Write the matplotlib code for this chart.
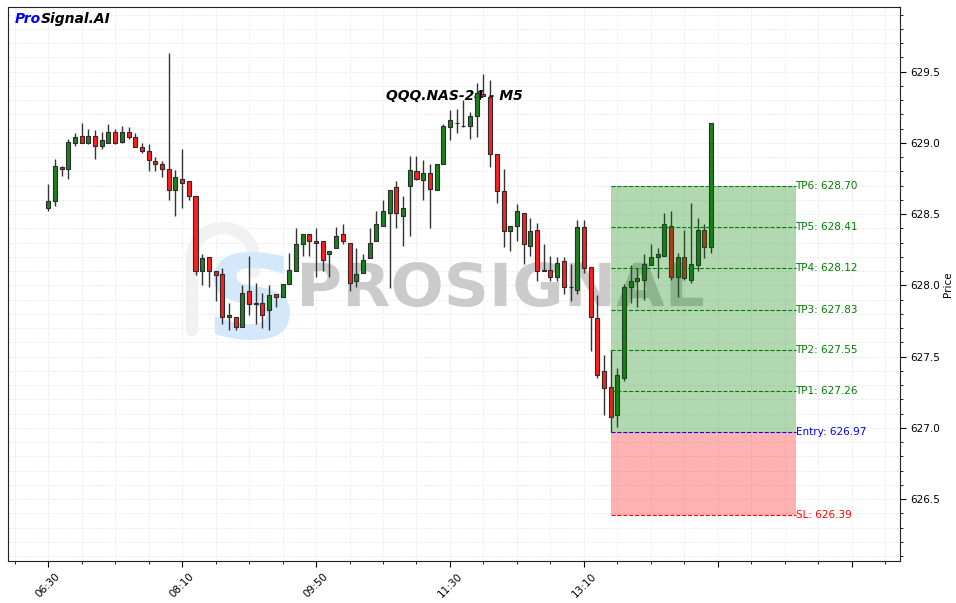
# coding=utf-8

import numpy as np
import pandas as pd
import matplotlib
matplotlib.use('Agg')
import matplotlib.pyplot as plt
from matplotlib.path import Path
from matplotlib.patches import PathPatch
from matplotlib.textpath import TextPath
from matplotlib.font_manager import FontProperties
from matplotlib.transforms import Affine2D
from matplotlib.ticker import MultipleLocator, FuncFormatter


SYMBOL = 'QQQ.NAS-24'
TIMEFRAME = 'M5'

times = pd.date_range('2024-01-01 06:30', periods=100, freq='5min').strftime('%H:%M').tolist()

opens = [628.54, 628.59, 628.83, 628.82, 629.00, 629.05, 629.00, 629.05, 628.98, 629.00,
         629.08, 629.01, 629.08, 629.04, 628.97, 628.94, 628.87, 628.85, 628.82, 628.67,
         628.75, 628.73, 628.63, 628.10, 628.20, 628.10, 628.08, 627.78, 627.78, 627.71,
         627.96, 627.87, 627.88, 627.83, 627.94, 627.92, 628.01, 628.10, 628.29, 628.36,
         628.31, 628.31, 628.22, 628.26, 628.36, 628.30, 628.03, 628.09, 628.19, 628.31,
         628.42, 628.51, 628.69, 628.49, 628.70, 628.80, 628.74, 628.79, 628.67, 628.85,
         629.11, 629.14, 629.12, 629.12, 629.19, 629.345, 629.32, 628.92, 628.66, 628.38,
         628.42, 628.51, 628.28, 628.39, 628.10, 628.11, 628.06, 628.17, 627.99, 627.97,
         628.41, 628.13, 627.77, 627.40, 627.285, 627.09, 627.35, 627.99, 628.03, 628.04,
         628.14, 628.20, 628.21, 628.42, 628.06, 628.20, 628.04, 628.14, 628.39, 628.27]
highs = [628.71, 628.885, 628.84, 629.03, 629.07, 629.14, 629.10, 629.09, 629.08, 629.135,
         629.10, 629.12, 629.11, 629.07, 629.00, 628.995, 628.90, 628.87, 629.63, 628.81,
         628.96, 628.73, 628.63, 628.22, 628.20, 628.10, 628.12, 627.88, 627.78, 628.00,
         628.21, 628.02, 627.95, 628.00, 627.94, 628.01, 628.23, 628.40, 628.36, 628.36,
         628.40, 628.31, 628.24, 628.41, 628.43, 628.30, 628.26, 628.22, 628.40, 628.52,
         628.60, 628.67, 628.73, 628.63, 628.91, 628.91, 628.88, 628.85, 628.85, 629.135,
         629.23, 629.24, 629.30, 629.22, 629.42, 629.485, 629.44, 628.92, 628.82, 628.42,
         628.57, 628.51, 628.47, 628.44, 628.29, 628.21, 628.20, 628.20, 628.15, 628.46,
         628.46, 628.13, 627.93, 627.51, 627.55, 627.42, 628.01, 628.14, 628.12, 628.22,
         628.29, 628.26, 628.51, 628.52, 628.23, 628.39, 628.58, 628.47, 628.43, 629.14]
lows = [628.52, 628.56, 628.77, 628.75, 628.98, 629.00, 628.99, 628.89, 628.96, 629.00,
        628.995, 629.00, 629.03, 628.97, 628.93, 628.80, 628.80, 628.76, 628.60, 628.49,
        628.54, 628.60, 628.07, 628.00, 627.99, 627.89, 627.73, 627.69, 627.69, 627.71,
        627.79, 627.73, 627.70, 627.69, 627.85, 627.92, 628.01, 628.10, 628.21, 628.21,
        628.06, 628.10, 628.06, 628.26, 628.29, 627.96, 627.99, 628.09, 628.19, 628.31,
        628.42, 627.98, 628.40, 628.28, 628.35, 628.74, 628.60, 628.40, 628.67, 628.85,
        629.02, 629.07, 629.11, 629.03, 629.04, 629.33, 628.83, 628.58, 628.27, 628.24,
        628.31, 628.15, 628.21, 628.03, 628.10, 628.03, 628.03, 627.94, 627.89, 627.94,
        628.09, 627.54, 627.35, 627.09, 626.97, 627.005, 627.33, 627.88, 627.85, 627.90,
        628.14, 628.05, 628.21, 628.04, 627.92, 628.04, 628.02, 628.10, 628.19, 628.23]
closes = [628.59, 628.84, 628.82, 629.01, 629.04, 629.00, 629.05, 628.98, 629.02, 629.08,
          629.00, 629.08, 629.04, 628.97, 628.94, 628.88, 628.85, 628.82, 628.67, 628.76,
          628.72, 628.63, 628.10, 628.19, 628.10, 628.07, 627.78, 627.79, 627.71, 627.95,
          627.87, 627.88, 627.79, 627.93, 627.92, 628.01, 628.11, 628.29, 628.36, 628.31,
          628.30, 628.18, 628.24, 628.35, 628.31, 628.02, 628.08, 628.18, 628.30, 628.43,
          628.52, 628.67, 628.51, 628.54, 628.81, 628.75, 628.79, 628.68, 628.85, 629.12,
          629.16, 629.14, 629.12, 629.19, 629.35, 629.33, 628.92, 628.66, 628.38, 628.42,
          628.52, 628.29, 628.38, 628.10, 628.11, 628.06, 628.16, 627.99, 627.99, 628.41,
          628.12, 627.78, 627.37, 627.28, 627.075, 627.37, 627.99, 628.03, 628.05, 628.15,
          628.20, 628.22, 628.43, 628.06, 628.20, 628.05, 628.15, 628.39, 628.27, 629.14]

entry_idx = 84
entry_price = 626.97
sl_price = 626.39
tp_prices = [627.26, 627.55, 627.83, 628.12, 628.41, 628.70]

W, H = 956, 603


def px_box_transform(fig, path, box):
    # box = (left, top, right, bottom) in image pixels
    bb = path.get_extents()
    x0, y0, x1, y1 = box
    sx = (x1 - x0) / W / bb.width
    sy = (y1 - y0) / H / bb.height
    return Affine2D().translate(-bb.x0, -bb.y0).scale(sx, sy) \
        .translate(x0 / W, 1 - y1 / H) + fig.transFigure


def add_fitted_text(fig, ax, s, box, color, zorder, weight='bold'):
    path = TextPath((0, 0), s, size=1, prop=FontProperties(family='DejaVu Sans', weight=weight))
    patch = PathPatch(path, facecolor=color, edgecolor='none', lw=0, zorder=zorder,
                      transform=px_box_transform(fig, path, box), clip_on=False)
    ax.add_patch(patch)


def add_watermark(fig, ax):
    # faint "P" outline of the logo
    t = np.linspace(np.pi, 0, 40)
    xs = list(np.full(5, 192.0)) + list(223 + 31 * np.cos(t)) + [254, 254]
    ys = list(np.linspace(330, 258, 5)) + list(258 - 30 * np.sin(t)) + [258, 272]
    verts = [(x / W, 1 - y / H) for x, y in zip(xs, ys)]
    ax.add_patch(PathPatch(Path(verts), facecolor='none', edgecolor='#f1f1f1', lw=9,
                           capstyle='round', joinstyle='round', zorder=1,
                           transform=fig.transFigure, clip_on=False))
    add_fitted_text(fig, ax, 'S', (214, 252, 290, 340), '#d3e9fb', 1.1)
    add_fitted_text(fig, ax, 'PROSIGNAL', (302, 262, 703, 307), '#cbcbcb', 1.2)


def plot_candles(ax):
    x = np.arange(len(opens))
    o = np.array(opens)
    c = np.array(closes)
    up = c >= o
    colors = np.where(up, '#1f801f', '#ff1f1f')
    ax.vlines(x, lows, highs, colors='#333333', lw=1.0, zorder=2.9)
    ax.bar(x, np.abs(c - o), bottom=np.minimum(o, c), width=0.6, color=colors,
           edgecolor='#2b2b2b', linewidth=0.8, zorder=3)


def plot_signal(ax):
    zone_end = entry_idx + 27.6
    xs = [entry_idx, zone_end]
    ax.fill_between(xs, entry_price, tp_prices[-1], color='green', alpha=0.3, lw=0, zorder=4)
    ax.fill_between(xs, sl_price, entry_price, color='red', alpha=0.3, lw=0, zorder=4)

    for k, tp in enumerate(tp_prices, start=1):
        ax.hlines(tp, entry_idx, zone_end, colors='green', linestyles='--', lw=0.8, zorder=5)
        ax.text(zone_end, tp, f'TP{k}: {tp:.2f}', color='green', fontsize=7.5,
                ha='left', va='center', zorder=5)
    ax.hlines(entry_price, entry_idx, zone_end, colors='blue', linestyles='--', lw=0.8, zorder=5)
    ax.text(zone_end, entry_price, f'Entry: {entry_price:.2f}', color='blue', fontsize=7.5,
            ha='left', va='center', zorder=5)
    ax.hlines(sl_price, entry_idx, zone_end, colors='red', linestyles='--', lw=0.8, zorder=5)
    ax.text(zone_end, sl_price, f'SL: {sl_price:.2f}', color='red', fontsize=7.5,
            ha='left', va='center', zorder=5)


fig = plt.figure(figsize=(W / 100, H / 100), dpi=100)
ax = fig.add_axes([8 / W, 42 / H, 892 / W, 554 / H])

add_watermark(fig, ax)
plot_candles(ax)
plot_signal(ax)

lo = min(min(lows), sl_price)
hi = max(max(highs), tp_prices[-1])
pad = 0.1 * (hi - lo)
ax.set_ylim(lo - pad, hi + pad)
ax.set_xlim(-6, 127.2)

ax.yaxis.tick_right()
ax.yaxis.set_label_position('right')
ax.set_ylabel('Price', fontsize=7.5, labelpad=2)
ax.yaxis.set_major_locator(MultipleLocator(0.5))
ax.yaxis.set_minor_locator(MultipleLocator(0.1))
ax.yaxis.set_major_formatter(FuncFormatter(lambda v, p: f'{v:.1f}'))

ax.xaxis.set_major_locator(MultipleLocator(20))
ax.xaxis.set_minor_locator(MultipleLocator(5))
ax.xaxis.set_major_formatter(FuncFormatter(
    lambda v, p: times[int(round(v))] if 0 <= int(round(v)) < len(times) else ''))
ax.tick_params(axis='both', which='major', labelsize=7.5, length=4)
ax.tick_params(axis='both', which='minor', length=2)
for lbl in ax.get_xticklabels():
    lbl.set_rotation(45)

ax.grid(True, which='both', color='#ececec', linestyle='--', lw=0.6, zorder=0)
ax.set_axisbelow(True)
for sp in ax.spines.values():
    sp.set_color('#222222')

ax.text(0.5, 0.84, f'{SYMBOL} - {TIMEFRAME}', transform=ax.transAxes, fontsize=10,
        fontweight='bold', fontstyle='italic', ha='center', va='center', zorder=1.5)
t1 = ax.text(0.008, 0.978, 'Pro', transform=ax.transAxes, fontsize=10, color='blue',
             fontweight='bold', fontstyle='italic', ha='left', va='center', zorder=6)
ax.annotate('Signal.AI', xy=(1, 0), xycoords=t1, fontsize=10, color='black',
            fontweight='bold', fontstyle='italic', ha='left', va='bottom', zorder=6)

fig.savefig('out.png', dpi=100)
